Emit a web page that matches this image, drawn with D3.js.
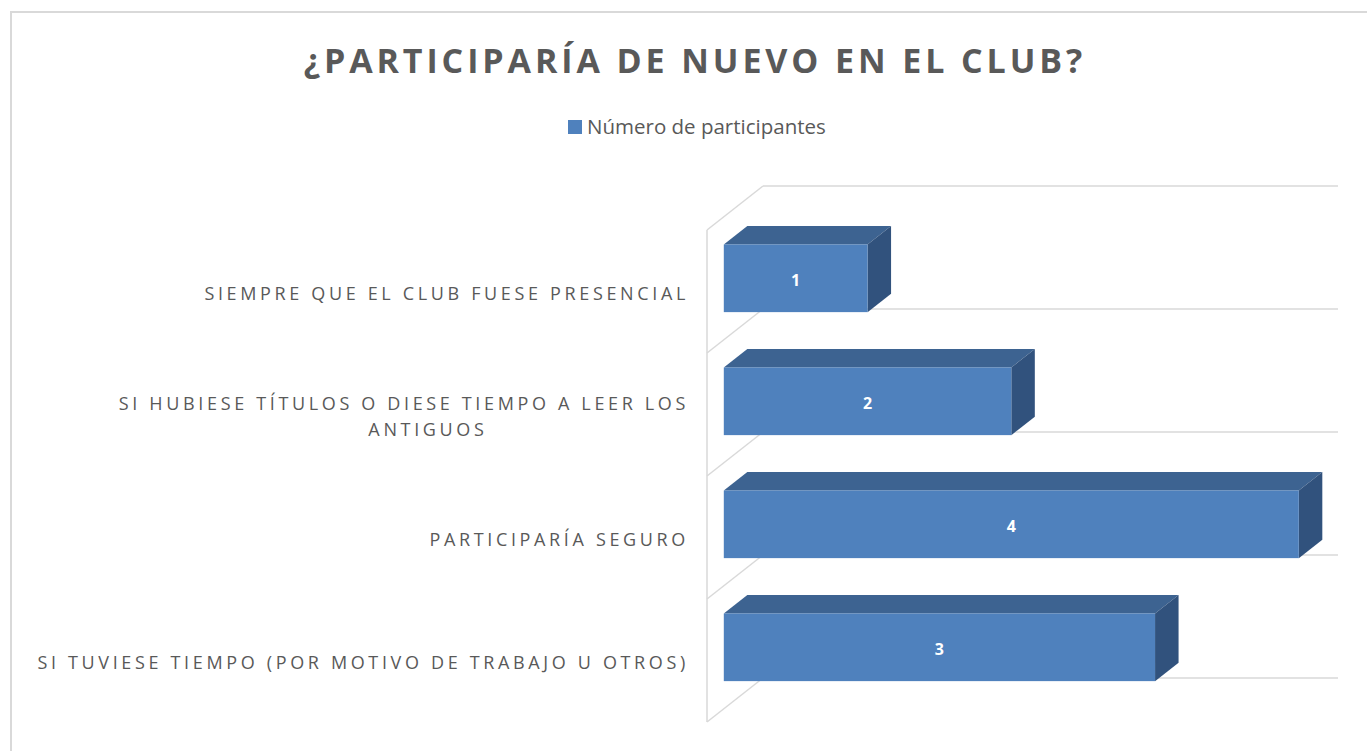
<!DOCTYPE html>
<html>
<head>
<meta charset="utf-8">
<script src="https://cdn.jsdelivr.net/npm/d3@7"></script>
<style>
  body { margin: 0; background: #fff; }
  text { font-family: "Open Sans", sans-serif; }
</style>
</head>
<body>
<div id="chart"></div>
<script>
const categories = [
  "SIEMPRE QUE EL CLUB FUESE PRESENCIAL",
  "SI HUBIESE TÍTULOS O DIESE TIEMPO A LEER LOS ANTIGUOS",
  "PARTICIPARÍA SEGURO",
  "SI TUVIESE TIEMPO (POR MOTIVO DE TRABAJO U OTROS)"
];
const values = [1, 2, 4, 3];
const seriesName = "Número de participantes";
const title = "¿PARTICIPARÍA DE NUEVO EN EL CLUB?";

const W = 1367, H = 751;
// 3d depth vector and bar depth
const DX = 56, DY = -44;
const D1 = 0.3, D2 = 0.72;
const frontCol = "#4f81bd", topCol = "#3d6391", sideCol = "#31527d";
const grey = "#595959", gridCol = "#d9d9d9";

const svg = d3.select("#chart").append("svg")
  .attr("width", W).attr("height", H);

svg.append("rect").attr("width", W).attr("height", H).attr("fill", "#fff");
svg.append("rect")
  .attr("x", 11).attr("y", 12)
  .attr("width", W + 40).attr("height", H + 40)
  .attr("fill", "none").attr("stroke", gridCol).attr("stroke-width", 2);

const xScale = d3.scaleLinear().domain([0, 4]).range([707, 1282]);
const yScale = d3.scaleBand().domain(categories).range([230, 722])
  .paddingInner(0.45).paddingOuter(0.225);
const step = yScale.step();
const bw = yScale.bandwidth();

const P = (x, y, d) => [x + DX * d, y + DY * d];

// walls
const bounds = categories.map(c => yScale(c) - (step - bw) / 2);
bounds.push(bounds[bounds.length - 1] + step);
const wall = svg.append("g").attr("stroke", gridCol).attr("stroke-width", 1.5).attr("fill", "none");
wall.append("line")
  .attr("x1", xScale(0)).attr("x2", xScale(0))
  .attr("y1", bounds[0]).attr("y2", bounds[bounds.length - 1]);
bounds.forEach(b => {
  const bk = P(xScale(0), b, 1);
  const bk2 = P(xScale(4), b, 1);
  wall.append("line").attr("x1", xScale(0)).attr("y1", b).attr("x2", bk[0]).attr("y2", bk[1]);
  wall.append("line").attr("x1", bk[0]).attr("y1", bk[1]).attr("x2", bk2[0]).attr("y2", bk2[1]);
});

// bars
const data = categories.map((c, i) => ({ c, v: values[i] }));
const bars = svg.append("g").selectAll("g").data(data).enter().append("g");
const pts = a => a.map(p => p.join(",")).join(" ");

bars.append("polygon")
  .attr("fill", topCol)
  .attr("points", d => {
    const y = yScale(d.c);
    return pts([P(xScale(0), y, D1), P(xScale(d.v), y, D1), P(xScale(d.v), y, D2), P(xScale(0), y, D2)]);
  });
bars.append("polygon")
  .attr("fill", sideCol)
  .attr("points", d => {
    const y = yScale(d.c);
    return pts([P(xScale(d.v), y, D1), P(xScale(d.v), y, D2), P(xScale(d.v), y + bw, D2), P(xScale(d.v), y + bw, D1)]);
  });
bars.append("rect")
  .attr("fill", frontCol)
  .attr("x", d => P(xScale(0), 0, D1)[0])
  .attr("y", d => P(0, yScale(d.c), D1)[1])
  .attr("width", d => xScale(d.v) - xScale(0))
  .attr("height", bw);
bars.append("text")
  .attr("x", d => P((xScale(0) + xScale(d.v)) / 2, 0, D1)[0])
  .attr("y", d => P(0, yScale(d.c) + bw / 2, D1)[1] + 2)
  .attr("text-anchor", "middle").attr("dominant-baseline", "central")
  .attr("fill", "#fff").attr("font-weight", "bold").attr("font-size", 16)
  .text(d => d.v);

// category labels
const lab = svg.append("g").attr("fill", grey).attr("font-size", 18)
  .attr("letter-spacing", "3.65px");
data.forEach(d => {
  const cy = yScale(d.c) + bw / 2 + 1;
  const t = lab.append("text").attr("x", 689).attr("text-anchor", "end")
    .attr("dominant-baseline", "central");
  t.text(d.c);
  if (t.node().getComputedTextLength() > 685) {
    const words = d.c.split(" ");
    const l2 = words.pop();
    t.text(words.join(" ")).attr("y", cy - 13);
    const w1 = t.node().getComputedTextLength();
    lab.append("text").attr("x", 689 - w1 / 2 + 24).attr("y", cy + 13)
      .attr("text-anchor", "middle").attr("dominant-baseline", "central")
      .text(l2);
  } else {
    t.attr("y", cy);
  }
});

// title
svg.append("text")
  .attr("x", 695).attr("y", 60)
  .attr("text-anchor", "middle").attr("dominant-baseline", "central")
  .attr("fill", grey).attr("font-weight", "bold").attr("font-size", 34)
  .attr("letter-spacing", "3.9px")
  .text(title);

// legend
svg.append("rect").attr("x", 568).attr("y", 120).attr("width", 14).attr("height", 14).attr("fill", frontCol);
svg.append("text").attr("x", 587).attr("y", 126)
  .attr("dominant-baseline", "central")
  .attr("fill", grey).attr("font-size", 20.5)
  .text(seriesName);
</script>
</body>
</html>
